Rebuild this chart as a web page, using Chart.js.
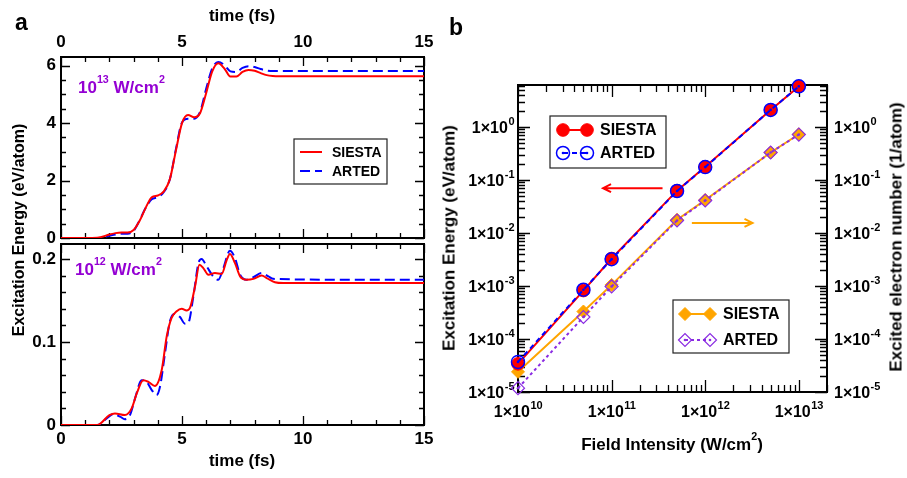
<!DOCTYPE html>
<html>
<head>
<meta charset="utf-8">
<script src="https://cdn.jsdelivr.net/npm/chart.js@4.4.1/dist/chart.umd.min.js"></script>
<style>
  body { margin: 0; background: #fff; }
  #fig { position: relative; width: 907px; height: 478px; overflow: hidden;
         font-family: "Liberation Sans", Arial, sans-serif; font-weight: bold; color: #000; }
  #fig canvas { position: absolute; left: 0; top: 0; }
  .t { position: absolute; white-space: nowrap; line-height: 1; }
  .c { transform: translate(-50%, -50%); }
  .v { transform: translate(-50%, -50%) rotate(-90deg); }
  .e { position: relative; top: -0.95em; font-size: 0.63em; }
  .violet { color: #9400d3; font-size: 17px; }
</style>
</head>
<body>
<div id="fig">
  <canvas id="top" width="907" height="478"></canvas>
  <canvas id="bottom" width="907" height="478"></canvas>
  <canvas id="log" width="907" height="478"></canvas>

  <div class="t" style="left:15px;top:11px;font-size:23px">a</div>
  <div class="t" style="left:449px;top:16px;font-size:23px">b</div>
  <div class="t c" style="left:242px;top:15px;font-size:17px">time (fs)</div>
  <div class="t c" style="left:242px;top:460px;font-size:17px">time (fs)</div>
  <div class="t v" style="left:19px;top:230px;font-size:16px">Excitation Energy (eV/atom)</div>
  <div class="t violet" style="left:78px;top:79px">10<span class="e">13</span> W/cm<span class="e">2</span></div>
  <div class="t violet" style="left:75px;top:261px">10<span class="e">12</span> W/cm<span class="e">2</span></div>
  <div class="t c" style="left:672px;top:444px;font-size:17px">Field Intensity (W/cm<span class="e">2</span>)</div>
  <div class="t v" style="left:449px;top:238px;font-size:17px">Excitation Energy (eV/atom)</div>
  <div class="t v" style="left:896px;top:237px;font-size:17px">Excited electron number (1/atom)</div>
</div>

<script>
// panel a, 10^13 W/cm2
var time13 = [0, 1, 1.5, 2, 2.25, 2.5, 2.75, 3, 3.25, 3.5, 3.75, 4, 4.25, 4.5, 4.75, 5, 5.25, 5.5, 5.75, 6,
              6.25, 6.5, 6.75, 7, 7.25, 7.5, 7.75, 8, 8.25, 8.5, 8.75, 9, 12, 15];
var siesta13 = [0, 0, 0.01, 0.12, 0.17, 0.19, 0.19, 0.28, 0.6, 1.05, 1.42, 1.48, 1.62, 2.05, 3.05, 4.0, 4.28, 4.2, 4.35, 5.05,
                5.8, 6.08, 5.9, 5.62, 5.62, 5.78, 5.85, 5.82, 5.74, 5.67, 5.64, 5.63, 5.63, 5.63];
var arted13 = [0, 0, 0, 0.08, 0.12, 0.15, 0.15, 0.25, 0.62, 1.05, 1.35, 1.42, 1.6, 2.05, 3.1, 4.02, 4.15, 4.15, 4.4, 5.2,
               5.9, 6.13, 6.02, 5.8, 5.78, 5.92, 5.98, 5.95, 5.88, 5.83, 5.81, 5.81, 5.81, 5.81];

// panel a, 10^12 W/cm2
var timeSiesta12 = [0, 1.5, 2.0, 2.23, 2.64, 2.92, 3.13, 3.4, 3.61, 3.88, 4.16, 4.37, 4.57, 4.78, 4.99, 5.19, 5.33, 5.54,
                    5.72, 5.88, 6.09, 6.36, 6.64, 6.85, 6.98, 7.19, 7.4, 7.67, 7.95, 8.29, 8.5, 8.84, 9.19, 12, 15];
var siesta12 = [0, 0, 0.012, 0.014, 0.012, 0.02, 0.038, 0.054, 0.052, 0.047, 0.066, 0.107, 0.129, 0.137, 0.140, 0.138, 0.141, 0.167,
                0.193, 0.189, 0.181, 0.183, 0.182, 0.199, 0.206, 0.195, 0.179, 0.175, 0.176, 0.18, 0.177, 0.172, 0.171, 0.171, 0.171];
var timeArted12 = [0, 1.5, 1.89, 2.16, 2.44, 2.64, 2.85, 3.06, 3.33, 3.54, 3.75, 3.95, 4.09, 4.3, 4.5, 4.71, 4.92, 5.12,
                   5.26, 5.47, 5.68, 5.81, 6.02, 6.29, 6.5, 6.71, 6.98, 7.19, 7.4, 7.67, 7.95, 8.29, 8.57, 8.77, 12, 15];
var arted12 = [0, 0, 0.008, 0.013, 0.01, 0.007, 0.012, 0.032, 0.054, 0.052, 0.042, 0.036, 0.046, 0.087, 0.125, 0.134, 0.130, 0.122,
               0.123, 0.155, 0.195, 0.2, 0.191, 0.179, 0.175, 0.189, 0.21, 0.201, 0.181, 0.175, 0.178, 0.183, 0.179, 0.176, 0.175, 0.175];

var timeTicks = [0, 5, 10, 15];
var energyTicks13 = [0, 2, 4, 6];
var energyTicks12 = [0, 0.1, 0.2];

// panel b
var intensity = [1e10, 5e10, 1e11, 5e11, 1e12, 5e12, 1e13];
var energySiesta = [3.4e-5, 8.2e-4, 3.3e-3, 0.063, 0.178, 2.1, 5.8];
var energyArted = [3.7e-5, 8.5e-4, 3.2e-3, 0.062, 0.175, 2.1, 5.85];
var electronsSiesta = [2.4e-5, 3.3e-4, 1.05e-3, 0.0178, 0.042, 0.33, 0.73];
var electronsArted = [1.18e-5, 2.6e-4, 0.98e-3, 0.0172, 0.041, 0.33, 0.72];

var intensityTicks = [1e10, 1e11, 1e12, 1e13];
var logTicks = [1e-5, 1e-4, 1e-3, 1e-2, 1e-1, 1e0];

var FONT = '"Liberation Sans", Arial, sans-serif';

function pts(xs, ys) {
    return xs.map(function (x, i) { return { x: x, y: ys[i] }; });
}

function steps(from, to, step) {
    var out = [];
    for (var v = from; v <= to + 1e-9; v += step) out.push(+v.toFixed(6));
    return out;
}

function logMinor(lo, hi) {
    var out = [];
    for (var e = Math.floor(Math.log10(lo)); e <= Math.ceil(Math.log10(hi)); e++) {
        for (var m = 2; m <= 9; m++) {
            var v = m * Math.pow(10, e);
            if (v > lo && v <= hi) out.push(v);
        }
    }
    return out;
}

// inward ticks on both opposite sides of the frame
function marks(ctx, a, scale, vals, len, horizontal) {
    (vals || []).forEach(function (v) {
        var p = Math.round(scale.getPixelForValue(v)) + 0.5;
        if (horizontal) {
            ctx.moveTo(p, a.top); ctx.lineTo(p, a.top + len);
            ctx.moveTo(p, a.bottom); ctx.lineTo(p, a.bottom - len);
        } else {
            ctx.moveTo(a.left, p); ctx.lineTo(a.left + len, p);
            ctx.moveTo(a.right, p); ctx.lineTo(a.right - len, p);
        }
    });
}

// "1x10" with a raised exponent, y is the baseline
function drawPow(ctx, v, x, y, align) {
    var base = '1\u00d710', exp = String(Math.round(Math.log10(v)));
    ctx.font = 'bold 16px ' + FONT;
    var wb = ctx.measureText(base).width;
    ctx.font = 'bold 11px ' + FONT;
    var we = ctx.measureText(exp).width;
    var x0 = align === 'right' ? x - wb - we : align === 'center' ? x - (wb + we) / 2 : x;
    ctx.textAlign = 'left';
    ctx.textBaseline = 'alphabetic';
    ctx.font = 'bold 16px ' + FONT;
    ctx.fillText(base, x0, y);
    ctx.font = 'bold 11px ' + FONT;
    ctx.fillText(exp, x0 + wb + 0.5, y - 8);
}

function marker(ctx, ds, x, y) {
    var r = ds.pointRadius;
    ctx.setLineDash([]);
    ctx.beginPath();
    if (ds.pointStyle === 'rectRot') {
        ctx.moveTo(x - r, y); ctx.lineTo(x, y - r); ctx.lineTo(x + r, y); ctx.lineTo(x, y + r);
        ctx.closePath();
    } else {
        ctx.arc(x, y, r, 0, Math.PI * 2);
    }
    ctx.fillStyle = ds.pointBackgroundColor;
    ctx.fill();
    ctx.lineWidth = ds.pointBorderWidth;
    ctx.strokeStyle = ds.pointBorderColor;
    ctx.stroke();
    centerDot(ctx, ds, x, y);
}

function centerDot(ctx, ds, x, y) {
    if (!ds.centerDot) return;
    ctx.beginPath();
    ctx.arc(x, y, 1.3, 0, Math.PI * 2);
    ctx.fillStyle = ds.pointBorderColor;
    ctx.fill();
}

function arrow(ctx, x0, x1, y, color) {
    var dir = x1 > x0 ? 1 : -1;
    ctx.strokeStyle = color;
    ctx.lineWidth = 2;
    ctx.setLineDash([]);
    ctx.beginPath();
    ctx.moveTo(x0, y); ctx.lineTo(x1, y);
    ctx.moveTo(x1 - dir * 8, y - 4); ctx.lineTo(x1, y); ctx.lineTo(x1 - dir * 8, y + 4);
    ctx.stroke();
}

// frame, ticks, tick labels, legend and arrows
function decor(cfg) {
    return {
        id: 'decor',
        beforeDatasetsDraw: function (chart) {
            var ctx = chart.ctx, a = chart.chartArea, sx = chart.scales.x, sy = chart.scales.y;
            ctx.save();
            ctx.strokeStyle = '#000';
            ctx.lineWidth = 1.3;
            ctx.beginPath();
            marks(ctx, a, sx, cfg.xMinor, cfg.minor, true);
            marks(ctx, a, sx, cfg.xMajor, cfg.major, true);
            marks(ctx, a, sy, cfg.yMinor, cfg.minor, false);
            marks(ctx, a, sy, cfg.yMajor, cfg.major, false);
            ctx.stroke();
            ctx.lineWidth = 2;
            ctx.strokeRect(a.left, a.top, a.right - a.left, a.bottom - a.top);

            ctx.fillStyle = '#000';
            if (cfg.pow) {
                intensityTicks.forEach(function (v) { drawPow(ctx, v, sx.getPixelForValue(v), a.bottom + 25, 'center'); });
                cfg.yMajor.forEach(function (v) {
                    var p = sy.getPixelForValue(v) + 6;
                    drawPow(ctx, v, a.left - 4, p, 'right');
                    drawPow(ctx, v, a.right + 7, p, 'left');
                });
            } else {
                ctx.font = 'bold 17px ' + FONT;
                ctx.textBaseline = 'middle';
                if (cfg.xLabels) {
                    ctx.textAlign = 'center';
                    cfg.xMajor.forEach(function (v) {
                        var y = cfg.xLabels === 'top' ? a.top - 15 : a.bottom + 14;
                        ctx.fillText(String(v), sx.getPixelForValue(v), y);
                    });
                }
                ctx.textAlign = 'right';
                cfg.yMajor.forEach(function (v) { ctx.fillText(String(v), a.left - 5, sy.getPixelForValue(v)); });
            }
            ctx.restore();
        },
        afterDatasetsDraw: function (chart) {
            var ctx = chart.ctx, sets = chart.data.datasets;
            ctx.save();
            sets.forEach(function (ds, i) {
                if (!ds.centerDot) return;
                chart.getDatasetMeta(i).data.forEach(function (pt) { centerDot(ctx, ds, pt.x, pt.y); });
            });
            (cfg.arrows || []).forEach(function (ar) {
                var ys = chart.scales[ar.axis];
                arrow(ctx, chart.scales.x.getPixelForValue(ar.from), chart.scales.x.getPixelForValue(ar.to),
                      ys.getPixelForValue(ar.at), ar.color);
            });
            (cfg.legends || []).forEach(function (L) {
                ctx.fillStyle = '#fff';
                ctx.fillRect(L.box[0], L.box[1], L.box[2] - L.box[0], L.box[3] - L.box[1]);
                ctx.strokeStyle = '#222';
                ctx.lineWidth = 1.2;
                ctx.setLineDash([]);
                ctx.strokeRect(L.box[0], L.box[1], L.box[2] - L.box[0], L.box[3] - L.box[1]);
                L.rows.forEach(function (r) {
                    var ds = sets[r.ds];
                    ctx.strokeStyle = ds.borderColor;
                    ctx.lineWidth = ds.borderWidth;
                    ctx.setLineDash(ds.borderDash || []);
                    ctx.beginPath();
                    ctx.moveTo(L.x0, r.y); ctx.lineTo(L.x1, r.y);
                    ctx.stroke();
                    if (L.markers) { marker(ctx, ds, L.x0, r.y); marker(ctx, ds, L.x1, r.y); }
                    ctx.fillStyle = '#000';
                    ctx.font = 'bold ' + L.size + 'px ' + FONT;
                    ctx.textAlign = 'left';
                    ctx.textBaseline = 'middle';
                    ctx.fillText(ds.label, L.tx, r.y + 1);
                });
            });
            ctx.restore();
        }
    };
}

function baseOptions(pad, scales) {
    return {
        responsive: false,
        animation: false,
        events: [],
        layout: { padding: pad },
        plugins: { legend: { display: false }, tooltip: { enabled: false } },
        scales: scales
    };
}

function timeLine(label, data, color, dash, order) {
    return {
        label: label,
        data: data,
        borderColor: color,
        borderWidth: 2,
        borderDash: dash,
        pointRadius: 0,
        cubicInterpolationMode: 'monotone',
        order: order
    };
}

new Chart(document.getElementById('top'), {
    type: 'line',
    data: {
        datasets: [
            timeLine('SIESTA', pts(time13, siesta13), '#ff0000', [], 0),
            timeLine('ARTED', pts(time13, arted13), '#0000ff', [10, 5], 1)
        ]
    },
    options: baseOptions({ left: 61, top: 57, right: 483, bottom: 240 }, {
        x: { type: 'linear', display: false, min: 0, max: 15 },
        y: { type: 'linear', display: false, min: 0, max: 6.3 }
    }),
    plugins: [decor({
        xMajor: timeTicks, xMinor: steps(0, 15, 1), yMajor: energyTicks13, yMinor: steps(0, 6, 0.5),
        major: 9, minor: 5, xLabels: 'top',
        legends: [{ box: [294, 139, 387, 184], x0: 300, x1: 322, tx: 332, size: 14,
                    rows: [{ ds: 0, y: 152 }, { ds: 1, y: 171 }] }]
    })]
});

new Chart(document.getElementById('bottom'), {
    type: 'line',
    data: {
        datasets: [
            timeLine('SIESTA', pts(timeSiesta12, siesta12), '#ff0000', [], 0),
            timeLine('ARTED', pts(timeArted12, arted12), '#0000ff', [10, 5], 1)
        ]
    },
    options: baseOptions({ left: 61, top: 244, right: 483, bottom: 53 }, {
        x: { type: 'linear', display: false, min: 0, max: 15 },
        y: { type: 'linear', display: false, min: 0, max: 0.218 }
    }),
    plugins: [decor({
        xMajor: timeTicks, xMinor: steps(0, 15, 1), yMajor: energyTicks12, yMinor: steps(0, 0.2, 0.02),
        major: 9, minor: 5, xLabels: 'bottom'
    })]
});

new Chart(document.getElementById('log'), {
    type: 'line',
    data: {
        datasets: [
            { label: 'ARTED', data: pts(intensity, energyArted), yAxisID: 'y', order: 0, clip: false,
              borderColor: '#0000ff', borderWidth: 2, borderDash: [5, 4],
              pointStyle: 'circle', pointRadius: 6.5, pointBorderWidth: 1.5,
              pointBackgroundColor: 'rgba(0,0,0,0)', pointBorderColor: '#0000ff', centerDot: true },
            { label: 'SIESTA', data: pts(intensity, energySiesta), yAxisID: 'y', order: 1, clip: false,
              borderColor: '#ff0000', borderWidth: 2,
              pointStyle: 'circle', pointRadius: 6.3, pointBorderWidth: 1,
              pointBackgroundColor: '#ff0000', pointBorderColor: '#ff0000' },
            { label: 'ARTED', data: pts(intensity, electronsArted), yAxisID: 'y2', order: 2, clip: false,
              borderColor: '#8a2be2', borderWidth: 2, borderDash: [3, 3],
              pointStyle: 'rectRot', pointRadius: 6.5, pointBorderWidth: 1.2,
              pointBackgroundColor: 'rgba(0,0,0,0)', pointBorderColor: '#8a2be2', centerDot: true },
            { label: 'SIESTA', data: pts(intensity, electronsSiesta), yAxisID: 'y2', order: 3, clip: false,
              borderColor: '#ffa500', borderWidth: 2,
              pointStyle: 'rectRot', pointRadius: 6.5, pointBorderWidth: 1,
              pointBackgroundColor: '#ffa500', pointBorderColor: '#ffa500' }
        ]
    },
    options: baseOptions({ left: 518, top: 85, right: 80, bottom: 86 }, {
        x: { type: 'logarithmic', display: false, min: 1e10, max: 2e13 },
        y: { type: 'logarithmic', display: false, min: 1e-5, max: 6.2 },
        y2: { type: 'logarithmic', display: false, position: 'right', min: 1e-5, max: 6.2 }
    }),
    plugins: [decor({
        xMajor: intensityTicks, xMinor: logMinor(1e10, 2e13), yMajor: logTicks, yMinor: logMinor(1e-5, 6.2),
        major: 12, minor: 7, pow: true,
        arrows: [
            { from: 3.5e11, to: 8.1e10, at: 0.07, axis: 'y', color: '#ff0000' },
            { from: 7.2e11, to: 3.2e12, at: 0.0155, axis: 'y2', color: '#ffa500' }
        ],
        legends: [
            { box: [550, 116, 666, 168], x0: 563, x1: 587, tx: 600, size: 16, markers: true,
              rows: [{ ds: 1, y: 130 }, { ds: 0, y: 153 }] },
            { box: [673, 300, 789, 353], x0: 685, x1: 710, tx: 723, size: 16, markers: true,
              rows: [{ ds: 3, y: 314 }, { ds: 2, y: 340 }] }
        ]
    })]
});
</script>
</body>
</html>
